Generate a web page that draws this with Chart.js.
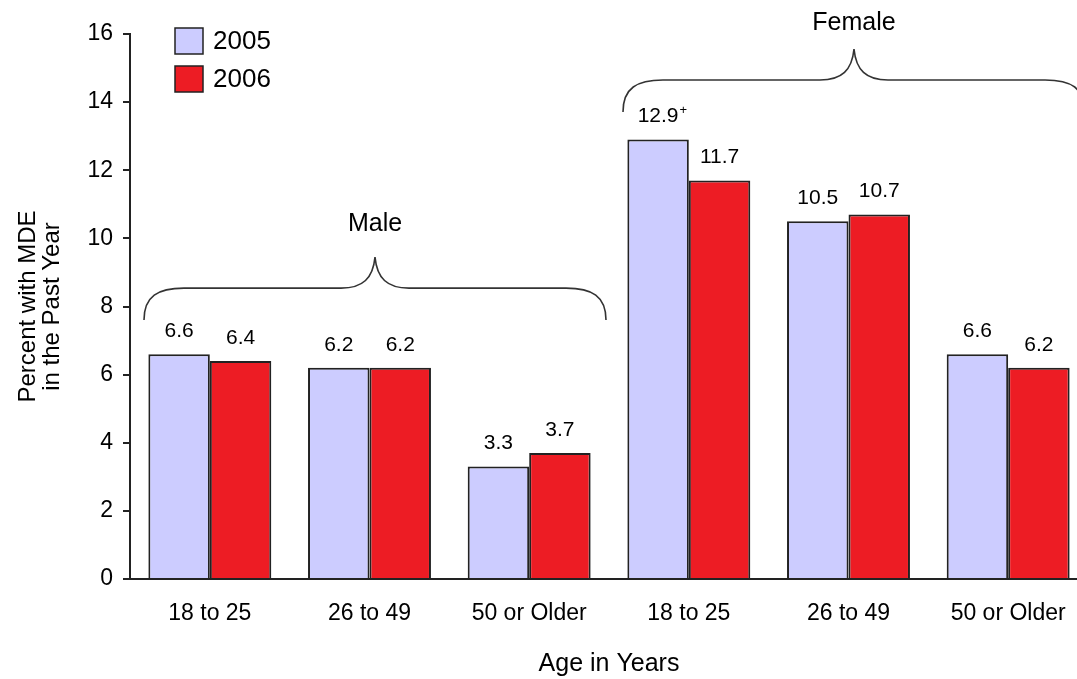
<!DOCTYPE html>
<html>
<head>
<meta charset="utf-8">
<script src="https://cdn.jsdelivr.net/npm/chart.js@4.4.0/dist/chart.umd.min.js"></script>
<style>
  html, body { margin: 0; padding: 0; background: #fff; overflow: hidden; }
  #wrap { width: 1077px; height: 679px; overflow: hidden; }
</style>
</head>
<body>
<div id="wrap"><canvas id="myChart" width="1090" height="679"></canvas></div>
<script>
const ageGroups = ["18 to 25", "26 to 49", "50 or Older", "18 to 25", "26 to 49", "50 or Older"];
const values2005 = [6.6, 6.2, 3.3, 12.9, 10.5, 6.6];
const values2006 = [6.4, 6.2, 3.7, 11.7, 10.7, 6.2];
// significance marker shown after the 2005 value
const marks2005 = ["", "", "", "+", "", ""];
const marks2006 = ["", "", "", "", "", ""];
const groups = [
  { label: "Male", from: 0, to: 2, level: 8.54 },
  { label: "Female", from: 3, to: 5, level: 14.65 }
];

const FONT = "'Liberation Sans', Arial, sans-serif";

const extras = {
  id: "extras",
  afterDatasetsDraw(chart) {
    const ctx = chart.ctx;
    const xs = chart.scales.x, ys = chart.scales.y;
    ctx.save();
    ctx.fillStyle = "#000";
    ctx.textAlign = "center";
    ctx.textBaseline = "middle";
    const allMarks = [marks2005, marks2006];
    chart.data.datasets.forEach((ds, di) => {
      chart.getDatasetMeta(di).data.forEach((bar, i) => {
        const txt = ds.data[i].toFixed(1);
        const y = bar.y - 23;
        ctx.font = "21px " + FONT;
        ctx.fillText(txt, bar.x, y);
        const m = allMarks[di][i];
        if (m) {
          const w = ctx.measureText(txt).width;
          ctx.font = "13px " + FONT;
          ctx.textAlign = "left";
          ctx.fillText(m, bar.x + w / 2 + 1, y - 6);
          ctx.textAlign = "center";
        }
      });
    });

    // group braces
    const catW = (xs.right - xs.left) / ageGroups.length;
    ctx.strokeStyle = "#333";
    ctx.lineWidth = 1.6;
    groups.forEach((g, gi) => {
      const x1 = xs.getPixelForValue(g.from) - catW / 2 + 14;
      const x2 = xs.getPixelForValue(g.to) + catW / 2 - 3;
      const xm = (x1 + x2) / 2;
      const yl = ys.getPixelForValue(g.level);
      const yt = yl - 31, ye = yl + 32;
      ctx.beginPath();
      ctx.moveTo(x1, ye);
      ctx.bezierCurveTo(x1, yl + 8, x1 + 14, yl, x1 + 40, yl);
      ctx.lineTo(xm - 34, yl);
      ctx.bezierCurveTo(xm - 12, yl, xm - 2, yl - 10, xm, yt);
      ctx.bezierCurveTo(xm + 2, yl - 10, xm + 12, yl, xm + 34, yl);
      ctx.lineTo(x2 - 40, yl);
      ctx.bezierCurveTo(x2 - 14, yl, x2, yl + 8, x2, ye);
      ctx.stroke();
      ctx.font = "25px " + FONT;
      ctx.fillStyle = "#000";
      ctx.textAlign = "center";
      ctx.textBaseline = "middle";
      ctx.fillText(g.label, xm, yl - (gi === 0 ? 64 : 57));
    });

    // legend
    chart.data.datasets.forEach((ds, di) => {
      const bx = 175, by = 28 + di * 38;
      ctx.fillStyle = ds.backgroundColor;
      ctx.fillRect(bx, by, 28, 26);
      ctx.strokeStyle = "#222";
      ctx.lineWidth = 1.5;
      ctx.strokeRect(bx, by, 28, 26);
      ctx.fillStyle = "#000";
      ctx.font = "26px " + FONT;
      ctx.textAlign = "left";
      ctx.textBaseline = "middle";
      ctx.fillText(ds.label, bx + 38, by + 14);
    });
    ctx.restore();
  }
};

new Chart(document.getElementById("myChart"), {
  type: "bar",
  data: {
    labels: ageGroups,
    datasets: [
      { label: "2005", data: values2005, backgroundColor: "#CCCCFF", borderColor: "#222", borderWidth: 2 },
      { label: "2006", data: values2006, backgroundColor: "#ED1C24", borderColor: "#222", borderWidth: 2 }
    ]
  },
  options: {
    responsive: false,
    animation: false,
    layout: { padding: { top: 34, right: 2, left: 0, bottom: 0 } },
    datasets: { bar: { categoryPercentage: 0.77, barPercentage: 1 } },
    plugins: { legend: { display: false }, tooltip: { enabled: false } },
    scales: {
      x: {
        grid: { display: false },
        border: { display: true, color: "#222", width: 2 },
        ticks: { color: "#000", font: { family: FONT, size: 23 }, padding: 13, maxRotation: 0, autoSkip: false },
        title: { display: true, text: "Age in Years", color: "#000", font: { family: FONT, size: 25 }, padding: { top: 0, bottom: 0 } },
        afterFit(s) { s.height = 100; }
      },
      y: {
        min: 0, max: 16,
        grid: { display: true, drawOnChartArea: false, color: "#222", lineWidth: 2, tickLength: 7 },
        border: { display: true, color: "#222", width: 2 },
        ticks: { stepSize: 2, color: "#000", font: { family: FONT, size: 23 }, padding: 10 },
        title: { display: true, text: ["Percent with MDE", "in the Past Year"], color: "#000", font: { family: FONT, size: 24, lineHeight: 1.0 }, padding: { top: 16, bottom: 0 } },
        afterFit(s) { s.width = 130; }
      }
    }
  },
  plugins: [extras]
});
</script>
</body>
</html>
